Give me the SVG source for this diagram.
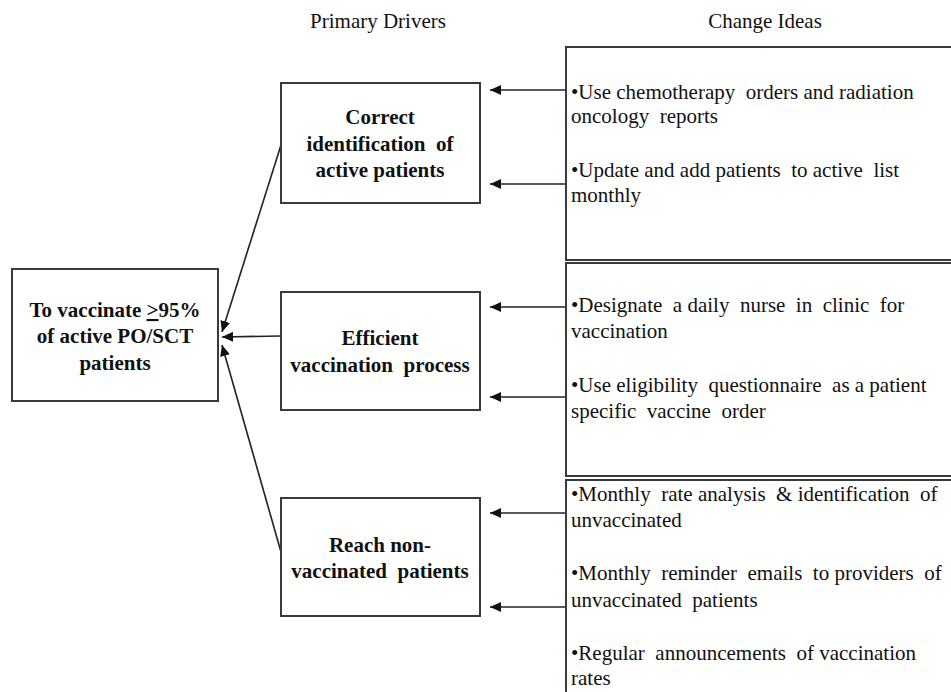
<svg xmlns="http://www.w3.org/2000/svg" width="951" height="692" viewBox="0 0 951 692">
<style>
.box{fill:#fff;stroke:#3a3a3a;stroke-width:2}
.t{font-family:"Liberation Serif","Times New Roman",serif;font-size:21px;fill:#111;white-space:pre}
.b{font-weight:bold;text-anchor:middle}
.c{stroke:#222;stroke-width:1.6;fill:none}
</style>
<defs>
<marker id="ah" markerUnits="userSpaceOnUse" markerWidth="12" markerHeight="10" refX="11" refY="5" orient="auto">
<path d="M0,0 L11,5 L0,10 Z" fill="#111"/>
</marker>
</defs>
<rect width="951" height="692" fill="#fff"/>
<g id="headers">
<text class="t" x="378" y="28" text-anchor="middle">Primary Drivers</text>
<text class="t" x="765" y="28" text-anchor="middle">Change Ideas</text>
</g>
<g id="connectors">
<line class="c" x1="281" y1="145" x2="222" y2="332" marker-end="url(#ah)"/>
<line class="c" x1="281" y1="336" x2="222" y2="337" marker-end="url(#ah)"/>
<line class="c" x1="281" y1="552" x2="222" y2="345" marker-end="url(#ah)"/>
<line class="c" x1="566" y1="90" x2="490" y2="90" marker-end="url(#ah)"/>
<line class="c" x1="566" y1="184" x2="490" y2="184" marker-end="url(#ah)"/>
<line class="c" x1="566" y1="307" x2="490" y2="307" marker-end="url(#ah)"/>
<line class="c" x1="566" y1="397" x2="490" y2="397" marker-end="url(#ah)"/>
<line class="c" x1="566" y1="513" x2="490" y2="513" marker-end="url(#ah)"/>
<line class="c" x1="566" y1="607" x2="490" y2="607" marker-end="url(#ah)"/>
</g>
<g id="aim">
<rect class="box" x="12" y="269" width="206" height="132"/>
<text class="t b" x="115" y="317">To vaccinate <tspan text-decoration="underline">&gt;</tspan>95%</text>
<text class="t b" x="115" y="343">of active PO/SCT</text>
<text class="t b" x="115" y="370">patients</text>
</g>
<g id="driver1">
<rect class="box" x="281" y="83" width="199" height="120"/>
<text class="t b" x="380" y="124">Correct</text>
<text class="t b" x="380" y="151">identification  of</text>
<text class="t b" x="380" y="177">active patients</text>
</g>
<g id="driver2">
<rect class="box" x="281" y="292" width="199" height="118"/>
<text class="t b" x="380" y="345">Efficient</text>
<text class="t b" x="380" y="372">vaccination  process</text>
</g>
<g id="driver3">
<rect class="box" x="281" y="498" width="199" height="118"/>
<text class="t b" x="380" y="552">Reach non-</text>
<text class="t b" x="380" y="578">vaccinated  patients</text>
</g>
<g id="ideas1">
<rect class="box" x="566" y="47" width="400" height="213"/>
<text class="t" x="571" y="99">•Use chemotherapy  orders and radiation</text>
<text class="t" x="571" y="123">oncology  reports</text>
<text class="t" x="571" y="177">•Update and add patients  to active  list</text>
<text class="t" x="571" y="202">monthly</text>
</g>
<g id="ideas2">
<rect class="box" x="566" y="263" width="400" height="213"/>
<text class="t" x="571" y="312">•Designate  a daily  nurse  in  clinic  for</text>
<text class="t" x="571" y="338">vaccination</text>
<text class="t" x="571" y="392">•Use eligibility  questionnaire  as a patient</text>
<text class="t" x="571" y="418">specific  vaccine  order</text>
</g>
<g id="ideas3">
<rect class="box" x="566" y="480" width="400" height="230"/>
<text class="t" x="571" y="501">•Monthly  rate analysis  &amp; identification  of</text>
<text class="t" x="571" y="527">unvaccinated</text>
<text class="t" x="571" y="580">•Monthly  reminder  emails  to providers  of</text>
<text class="t" x="571" y="607">unvaccinated  patients</text>
<text class="t" x="571" y="660">•Regular  announcements  of vaccination</text>
<text class="t" x="571" y="685">rates</text>
</g>
</svg>
